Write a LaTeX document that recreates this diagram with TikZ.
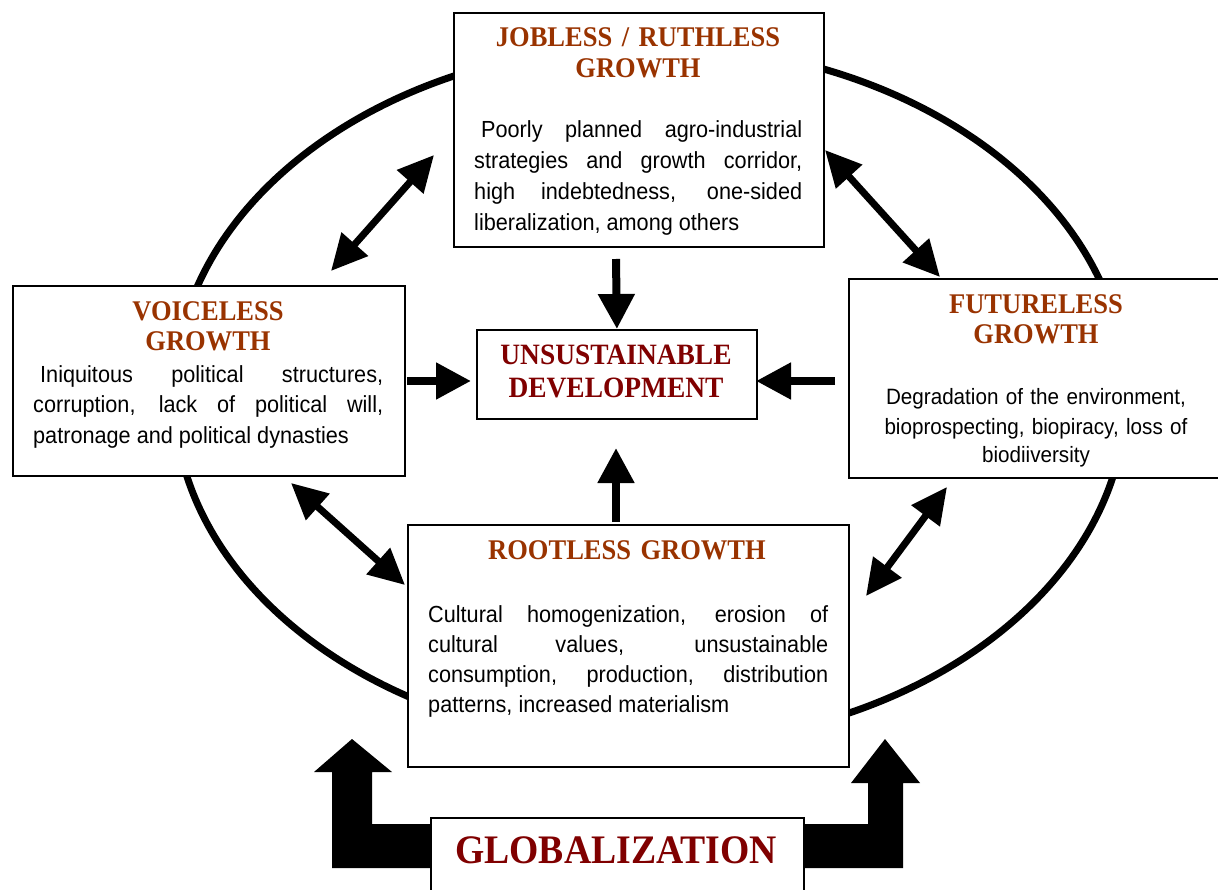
\documentclass[tikz,border=0pt]{standalone}
\usepackage{fontspec}
\setmainfont{Liberation Serif}
\newfontfamily\bodyfont{Liberation Sans}[FakeStretch=0.93]
\newfontfamily\headfont{Liberation Serif}[FakeStretch=0.93]
\usetikzlibrary{arrows.meta}
\definecolor{headbrown}{RGB}{153,51,0}
\definecolor{deepred}{RGB}{128,0,0}
\hyphenpenalty=10000
\exhyphenpenalty=10000
\tolerance=10000
\hbadness=10000
\begin{document}
\begin{tikzpicture}[x=1pt,y=-1pt,
  box/.style={draw=black, line width=1.8pt, fill=white, inner sep=0pt, anchor=north west},
  headtxt/.style={inner sep=0pt, anchor=base, text width=380pt, align=center,
    font=\headfont\bfseries\fontsize{28.5}{30.5}\selectfont, text=headbrown},
  bodytxt/.style={inner sep=0pt, anchor=base west, align=justify,
    font=\bodyfont\fontsize{23.3}{30.7}\selectfont},
  dbl/.style={line width=7pt, {Triangle[length=36pt,width=34pt]}-{Triangle[length=36pt,width=34pt]}},
  sgl/.style={line width=8pt, -{Triangle[length=35pt,width=35pt]}},
  bigarrow/.style={fill=black}]
\clip (0,0) rectangle (1218,890);

% outer cycle
\draw[line width=7pt] (650,395) ellipse [x radius=476, y radius=350];

% globalization arrows
\fill[bigarrow] (430,824) -- (372,824) -- (372,772) -- (392,772) -- (352,739)
  -- (314,772) -- (332,772) -- (332,868) -- (430,868) -- cycle;
\fill[bigarrow] (803,824) -- (868,824) -- (868,783) -- (851,783) -- (885,739)
  -- (920,783) -- (903,783) -- (903,868) -- (803,868) -- cycle;

% boxes
\node[box, minimum width=370pt, minimum height=234pt] (job) at (453,12) {};
\node[box, minimum width=392pt, minimum height=190pt] (voice) at (12,285) {};
\node[box, minimum width=380pt, minimum height=199pt] (future) at (848,278) {};
\node[box, minimum width=280pt, minimum height=89pt] (dev) at (476,329) {};
\node[box, minimum width=441pt, minimum height=242pt] (root) at (407,524) {};
\node[box, minimum width=373pt, minimum height=100pt] (glob) at (430,817) {};

% texts
\node[headtxt] (jobT) at (638,47) {JOBLESS / RUTHLESS\\GROWTH};
\node[bodytxt, text width=328pt] (jobB) at (474,138)
  {\hspace*{0.3em}Poorly planned agro-industrial\linebreak strategies and growth corridor,\linebreak
   high indebtedness, one-sided\linebreak liberalization, among others};

\node[headtxt, font=\headfont\bfseries\fontsize{28.5}{30}\selectfont] (voiceT) at (208,321) {VOICELESS\\GROWTH};
\node[bodytxt, text width=350pt] (voiceB) at (33,382)
  {\hspace*{0.3em}Iniquitous political structures,\linebreak corruption, lack of political will,\linebreak
   patronage and political dynasties};

\node[headtxt, font=\headfont\bfseries\fontsize{28.5}{30}\selectfont] (futureT) at (1036,314) {FUTURELESS\\GROWTH};
\node[bodytxt, anchor=base, text width=350pt, align=center,
  font=\bodyfont\fontsize{22.2}{29}\selectfont] (futureB) at (1036,405)
  {Degradation of the environment,\\ bioprospecting, biopiracy, loss of\\ biodiiversity};

\node[headtxt, text=deepred, font=\headfont\bfseries\fontsize{29.5}{33}\selectfont] (devT) at (616,365)
  {UNSUSTAINABLE\\DEVELOPMENT};

\node[headtxt] (rootT) at (627,559) {ROOTLESS GROWTH};
\node[bodytxt, text width=400pt, font=\bodyfont\fontsize{23.3}{30.3}\selectfont] (rootB) at (428,622)
  {Cultural homogenization, erosion of\linebreak cultural values, unsustainable\linebreak
   consumption, production, distribution\linebreak patterns, increased materialism};

\node[headtxt, text=deepred, font=\headfont\bfseries\fontsize{40.5}{42}\selectfont] (globT) at (616,863) {GLOBALIZATION};

% arrow end points
\coordinate (jvA) at (434,155);  \coordinate (jvB) at (331,271);
\coordinate (jfA) at (825,150);  \coordinate (jfB) at (940,277);
\coordinate (vrA) at (291,483);  \coordinate (vrB) at (405,585);
\coordinate (frA) at (947,487);  \coordinate (frB) at (866,596);
\coordinate (jdS) at (616,259);
\coordinate (vdS) at (407,381);  \coordinate (vdE) at (471,381);
\coordinate (fdS) at (835,381);  \coordinate (fdE) at (756,381);
\coordinate (rdS) at (616,522);  \coordinate (rdE) at (616,448);

% links between the growth boxes
\draw[dbl] (jvA) -- (jvB);
\draw[dbl] (jfA) -- (jfB);
\draw[dbl] (vrA) -- (vrB);
\draw[dbl] (frA) -- (frB);

% links into the centre
\draw[sgl] (jdS) -- (dev.north);
\draw[sgl] (vdS) -- (vdE);
\draw[sgl] (fdS) -- (fdE);
\draw[sgl] (rdS) -- (rdE);
\end{tikzpicture}
\end{document}
